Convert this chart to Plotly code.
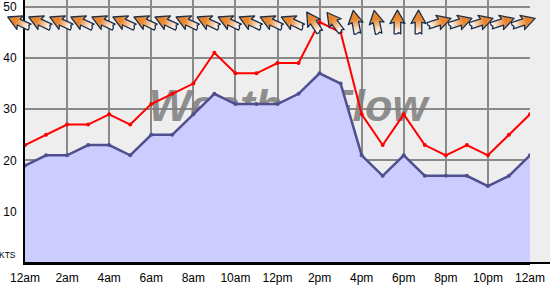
import base64
import plotly.graph_objects as go

# ---- data ----
hours = list(range(25))
tick_hours = [0, 2, 4, 6, 8, 10, 12, 14, 16, 18, 20, 22, 24]
tick_labels = ["12am", "2am", "4am", "6am", "8am", "10am", "12pm",
               "2pm", "4pm", "6pm", "8pm", "10pm", "12am"]
avg_kts = [19, 21, 21, 23, 23, 21, 25, 25, 29, 33, 31, 31, 31, 33, 37, 35,
           21, 17, 21, 17, 17, 17, 15, 17, 21]
gust_kts = [23, 25, 27, 27, 29, 27, 31, 33, 35, 41, 37, 37, 39, 39, 47, 45,
            29, 23, 29, 23, 21, 23, 21, 25, 29]
# arrow heading on screen (degrees counter-clockwise from east)
arrow_heading = [155, 155, 155, 155, 155, 155, 155, 155, 155, 155, 155, 155,
                 155, 155, 123, 127, 100, 101, 90, 90, 18, 18, 18, 18, 18]
y_ticks = [10, 20, 30, 40, 50]

# ---- style constants ----
X_RANGE = [0, 24]
Y_RANGE = [0, 51.3]
ARROW_Y = 47
ARROW_OFFSET = -0.3
PX_PER_X = 505 / 24
PX_PER_Y = 265 / 51.3
ARROW_PX = 30


def arrow_svg(angle):
    svg = (
        '<svg xmlns="http://www.w3.org/2000/svg" width="30" height="30" viewBox="-15 -15 30 30">'
        '<defs><linearGradient id="g" gradientUnits="userSpaceOnUse" x1="-11" y1="0" x2="3" y2="0">'
        '<stop offset="0" stop-color="#ffffff"/><stop offset="1" stop-color="#e8852d"/>'
        '</linearGradient></defs>'
        f'<g transform="rotate({-angle})">'
        '<path d="M-12,-3.3 L0,-3.3 L-1.5,-7.5 L12,0 L-1.5,7.5 L0,3.3 L-12,3.3 L-10.5,1.2 L-12,-0.8 Z" '
        'fill="url(#g)" stroke="#1b2f4a" stroke-width="1.3" stroke-linejoin="round"/>'
        '</g></svg>'
    )
    return "data:image/svg+xml;base64," + base64.b64encode(svg.encode()).decode()


def x_frac(v):
    # position along the x axis as a fraction of its domain (axis is linear)
    return (v - X_RANGE[0]) / (X_RANGE[1] - X_RANGE[0])


def y_frac(v):
    return (v - Y_RANGE[0]) / (Y_RANGE[1] - Y_RANGE[0])


fig = go.Figure()

# watermark (drawn first so the fill covers it)
fig.add_trace(go.Scatter(
    x=[12.5], y=[29.8], mode="text", text=["WeatherFlow"],
    textfont=dict(family="Liberation Sans", size=45, color="rgba(125,125,125,0.85)",
                  weight="bold", style="italic"),
    textposition="middle center", hoverinfo="skip", showlegend=False,
))

fig.add_trace(go.Scatter(
    x=hours, y=avg_kts, mode="lines+markers", fill="tozeroy",
    fillcolor="#ccccff", line=dict(color="#4f4f8f", width=2.5),
    marker=dict(size=4, color="#4f4f8f"), showlegend=False,
))

fig.add_trace(go.Scatter(
    x=hours, y=gust_kts, mode="lines+markers",
    line=dict(color="#ff0000", width=2), marker=dict(size=4, color="#ff0000"),
    showlegend=False,
))

images = []
for h, a in zip(hours, arrow_heading):
    images.append(dict(
        source=arrow_svg(a), xref="paper", yref="paper",
        x=x_frac(h + ARROW_OFFSET), y=y_frac(ARROW_Y),
        sizex=ARROW_PX / 505, sizey=ARROW_PX / 265,
        xanchor="center", yanchor="middle", sizing="stretch", layer="above",
    ))

ext = 20 / 505
fig.update_layout(
    width=550, height=285,
    margin=dict(l=25, r=20, t=0, b=20),
    paper_bgcolor="white", plot_bgcolor="#eeeeee",
    font=dict(family="Liberation Sans", size=12, color="black"),
    images=images,
    shapes=[
        dict(type="rect", xref="paper", yref="paper", x0=1, x1=1 + ext, y0=0, y1=1,
             fillcolor="#eeeeee", line=dict(width=0), layer="below"),
        dict(type="line", xref="paper", yref="paper", x0=0, x1=1 + ext, y0=0, y1=0,
             line=dict(color="black", width=2)),
    ],
    annotations=[dict(text="KTS", xref="x", yref="y", x=0, y=0, xanchor="right",
                      yanchor="middle", xshift=-7, yshift=8, showarrow=False,
                      font=dict(size=8.5, family="Liberation Sans"))],
    xaxis=dict(range=X_RANGE, tickvals=tick_hours, ticktext=tick_labels,
               showgrid=True, gridcolor="#8a8a8a", gridwidth=1.5,
               showline=True, linecolor="black", linewidth=2,
               ticks="", ticklabelstandoff=3, zeroline=False, fixedrange=True,
               ticklabeloverflow="allow"),
    yaxis=dict(range=Y_RANGE, tickvals=y_ticks, showgrid=True, gridcolor="#8a8a8a",
               gridwidth=1.5, showline=True, linecolor="black", linewidth=2,
               ticks="", ticklabelstandoff=4, zeroline=False, fixedrange=True,
               ticklabeloverflow="allow"),
)

fig.write_html("out.html")
